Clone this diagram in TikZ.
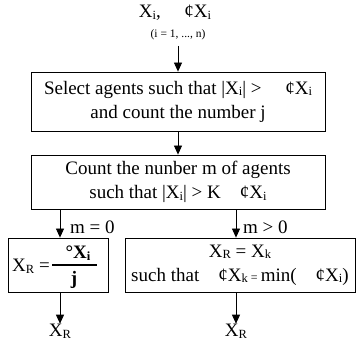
\documentclass[tikz,border=0pt]{standalone}
\usepackage{fontspec}
\setmainfont{Liberation Serif}
\usetikzlibrary{arrows.meta,calc}
\newcommand\lowsub[1]{\raisebox{-0.2ex}{\fontsize{12.5}{12.5}\selectfont #1}}
\begin{document}
\begin{tikzpicture}[x=1pt,y=1pt,
  every node/.style={font=\fontsize{19}{24}\selectfont, inner sep=0pt},
  boxnode/.style={draw, line width=0.8pt, align=center},
  arr/.style={line width=0.8pt, -{Triangle[length=9pt,width=8pt]}}]
\useasboundingbox (0,0) rectangle (357,-345);
% top
\node (top) at (175,-13) {X\lowsub{i},\quad\ ¢X\lowsub{i}};
\node[font=\fontsize{11.5}{13}\selectfont] (rng) at (178,-35) {(i = 1, ..., n)};
\coordinate (a0) at (178,-46);
% boxes
\node[boxnode, minimum width=294, minimum height=59] (box1) at (178,-101.5)
  {Select agents such that |X\lowsub{i}| >\quad\ ¢X\lowsub{i}\\ and count the number j};
\node[boxnode, minimum width=294, minimum height=54] (box2) at (178,-182)
  {Count the nunber m of agents\\ such that |X\lowsub{i}| > K\quad ¢X\lowsub{i}};
\node[boxnode, minimum width=100, minimum height=54] (lbox) at (58,-265) {};
\node[boxnode, minimum width=230, minimum height=54, align=center] (rbox) at (240,-265)
  {X\lowsub{R} = X\lowsub{k}\\ such that\quad ¢X\lowsub{k}\,{\fontsize{12}{12}\selectfont =}\,min(\quad ¢X\lowsub{i})};
% left box content
\node[anchor=west] (xr) at (12,-266) {X\lowsub{R} =};
\coordinate (fbl) at (52,-265);
\coordinate (fbr) at (97,-265);
\draw[line width=2.8pt] (fbl) -- (fbr);
\node[font=\bfseries\fontsize{19}{20}\selectfont] (num) at (78,-253) {°X\lowsub{i}};
\node[font=\bfseries\fontsize{19}{20}\selectfont] (den) at (74,-280) {j};
% arrows
\draw[arr] (a0) -- (box1.north);
\draw[arr] (box1.south) -- (box2.north);
\coordinate (lx) at (60,0);
\coordinate (rx) at (236,0);
\draw[arr] (box2.south -| lx) -- (lbox.north -| lx);
\draw[arr] (box2.south -| rx) -- (rbox.north -| rx);
\node[anchor=west] (m0) at (70,-227) {m = 0};
\node[anchor=west] (m1) at (243,-227) {m > 0};
% outputs
\node (o1) at (60,-331) {X\lowsub{R}};
\node (o2) at (236,-331) {X\lowsub{R}};
\draw[arr] (lbox.south -| lx) -- (o1.north);
\draw[arr] (rbox.south -| rx) -- (o2.north);
\end{tikzpicture}
\end{document}
